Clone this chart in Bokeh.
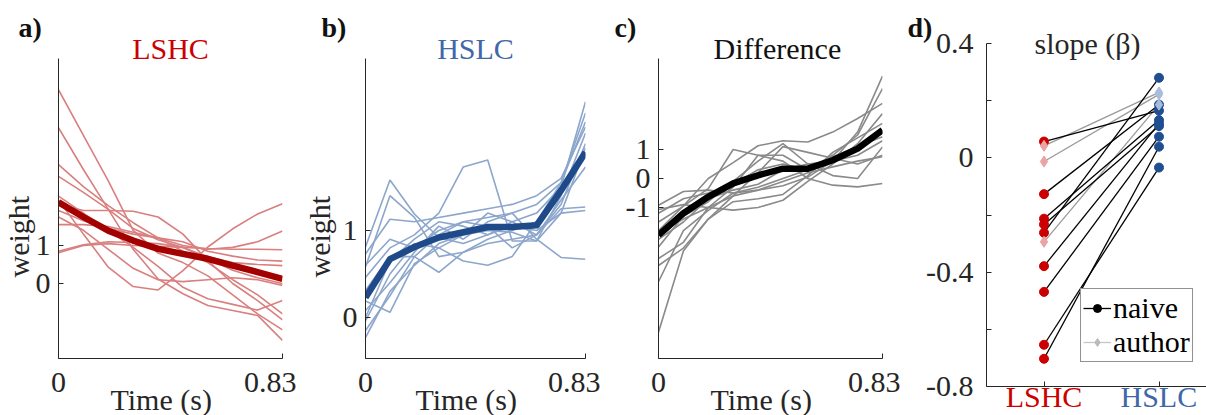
import numpy as np
from bokeh.plotting import figure
from bokeh.layouts import row
from bokeh.models import (Title, FixedTicker, Legend, LegendItem,
                          ColumnDataSource, Range1d)
from bokeh.embed import file_html
from bokeh.resources import INLINE

FONT = "Liberation Serif"
INK = "#262626"
FS = "30px"

# ---------------------------------------------------------------- data
n_frames = 10
time = np.linspace(0.0, 0.83, n_frames)

lshc_subjects = [
    [5.10, 3.90, 2.70, 1.40, 0.80, 0.55, 0.20, -0.30, -0.80, -1.22],
    [4.10, 3.00, 1.95, 0.90, 0.12, -0.27, -0.58, -0.71, -0.84, -1.50],
    [3.13, 2.55, 2.05, 1.60, 1.20, 0.85, 0.55, 0.10, -0.30, -0.80],
    [2.82, 2.40, 1.95, 1.45, 1.15, 0.95, 0.65, 0.35, 0.15, 0.00],
    [2.20, 1.30, 0.43, -0.08, -0.17, 0.34, 0.96, 1.44, 1.83, 2.10],
    [2.08, 1.92, 1.92, 1.90, 1.75, 1.30, 0.60, 0.00, -0.45, -0.96],
    [1.92, 1.65, 1.45, 1.30, 1.20, 1.10, 0.85, 0.72, 0.62, 0.59],
    [1.55, 1.55, 1.50, 1.35, 1.20, 1.00, 0.90, 0.95, 1.10, 1.38],
    [0.81, 1.00, 1.05, 1.00, 0.98, 0.95, 0.92, 0.90, 0.90, 0.89],
    [0.85, 1.02, 1.10, 1.08, 1.05, 0.95, 0.70, 0.55, 0.50, 0.47],
    [1.75, 1.40, 0.90, 0.40, 0.10, 0.05, 0.10, 0.15, 0.10, -0.05],
    [2.30, 1.85, 1.40, 0.95, 0.45, -0.10, -0.40, -0.55, -0.70, -0.45],
]
lshc_mean = [2.14, 1.75, 1.39, 1.13, 0.91, 0.78, 0.65, 0.47, 0.30, 0.12]

hslc_subjects = [
    [0.81, 1.58, 1.19, 0.92, 0.85, 0.95, 1.10, 1.20, 1.50, 2.48],
    [0.58, 1.40, 1.15, 0.70, 0.75, 0.90, 1.00, 1.10, 1.55, 2.35],
    [0.73, 1.13, 1.10, 1.15, 1.20, 1.25, 1.30, 1.40, 1.60, 2.19],
    [0.46, 0.80, 0.95, 1.20, 1.73, 1.81, 0.88, 0.88, 1.20, 1.23],
    [0.19, 0.06, 0.62, 0.80, 0.95, 1.00, 0.98, 0.88, 1.40, 2.12],
    [0.31, 0.70, 0.70, 0.52, 0.75, 0.85, 0.90, 0.95, 1.30, 2.00],
    [0.08, 0.40, 0.75, 1.05, 0.90, 1.10, 1.20, 0.90, 0.69, 0.67],
    [-0.04, 0.50, 0.85, 0.80, 0.65, 0.60, 0.70, 1.10, 1.45, 1.88],
    [-0.15, 0.25, 0.70, 0.95, 1.10, 1.05, 0.80, 0.95, 1.35, 1.73],
    [-0.23, 0.30, 0.60, 0.85, 0.95, 1.20, 1.10, 0.95, 1.25, 1.27],
    [0.60, 0.90, 0.80, 1.00, 1.10, 1.15, 1.20, 1.30, 1.55, 2.25],
    [0.00, 0.65, 0.90, 1.10, 1.05, 0.95, 1.05, 1.00, 1.20, 1.95],
]
hslc_mean = [0.23, 0.67, 0.81, 0.92, 0.98, 1.04, 1.04, 1.06, 1.46, 1.90]

diff_subjects = [
    [-0.92, -0.45, -0.40, -0.50, -0.40, -0.25, 0.05, 0.60, 1.60, 3.53],
    [-1.07, -0.90, -1.00, -1.09, -1.00, -0.75, -0.10, 0.50, 1.20, 2.24],
    [-1.50, -0.95, -0.35, 1.00, 0.80, 0.60, 0.00, -0.23, -0.29, -0.17],
    [-1.80, -0.95, 0.00, 0.55, 1.13, 1.30, 1.26, 1.60, 2.07, 2.59],
    [-2.36, -1.30, -0.80, -0.10, 0.60, 1.20, 0.50, 0.10, 0.00, 1.09],
    [-2.76, -2.20, -1.00, -0.30, 0.80, 0.80, 0.30, 0.75, 1.10, 1.44],
    [-3.00, -2.40, -1.40, -0.60, -0.40, -0.10, 0.20, 0.40, 0.60, 0.75],
    [-3.56, -1.80, -1.10, -0.50, -0.30, 0.00, 0.30, 0.60, 1.00, 1.61],
    [-5.30, -2.50, -1.40, -0.80, -0.70, -0.55, 0.10, 0.90, 1.40, 1.90],
    [-1.20, -0.70, -0.50, -0.20, 0.30, 0.50, 0.30, 0.80, 1.50, 3.10],
    [-2.10, -1.50, -0.70, -0.40, -0.20, 0.30, 0.50, 0.60, 0.80, 1.30],
    [-1.90, -1.40, -1.00, -0.60, 0.20, 1.10, 0.90, 0.70, 0.50, 0.80],
]
diff_mean = [-1.95, -1.20, -0.63, -0.17, 0.11, 0.34, 0.34, 0.63, 1.03, 1.67]

conditions = ["LSHC", "HSLC"]
slope_naive_lshc = [0.057, -0.127, -0.213, -0.233, -0.262, -0.379, -0.469, -0.654, -0.703]
slope_naive_hslc = [0.165, 0.186, 0.132, 0.111, 0.280, 0.120, 0.074, -0.034, 0.039]
slope_author_lshc = [0.042, -0.013, -0.294]
slope_author_hslc = [0.229, 0.222, 0.186]

time_ticks = [0.0, 0.83]
time_tick_labels = {0.0: "0", 0.83: "0.83"}
weight_ticks = [0, 1]
weight_tick_labels = {0: "0", 1: "1"}
diff_ticks = [-1, 0, 1]
diff_tick_labels = {-1: "-1", 0: "0", 1: "1"}
slope_ticks = [-0.8, -0.6, -0.4, -0.2, 0.0, 0.2, 0.4]
slope_tick_labels = {-0.8: "-0.8", -0.6: "", -0.4: "-0.4", -0.2: "", 0.0: "0",
                     0.2: "", 0.4: "0.4"}

# ---------------------------------------------------------------- colours
RED_LIGHT = "#da7f7f"
RED_DARK = "#a30000"
RED = "#cc0000"
PINK = "#eba3a3"
BLUE_LIGHT = "#8ca6cc"
BLUE_DARK = "#1f4a8a"
BLUE = "#1f4e91"
BLUE_TITLE = "#3f68a8"
BLUE_PALE = "#a9bcd9"
GREY = "#8a8a8a"


def make_panel(width, border, xr, yr):
    left, right, top, bottom = border
    p = figure(width=width, height=415,
               x_range=Range1d(*xr), y_range=Range1d(*yr),
               output_backend="svg", toolbar_location=None,
               min_border_left=left, min_border_right=right,
               min_border_top=top, min_border_bottom=bottom)
    p.frame_align = False
    p.outline_line_color = None
    p.grid.visible = False
    p.background_fill_color = "white"
    p.border_fill_color = "white"
    for ax in p.axis:
        ax.axis_line_color = INK
        ax.axis_line_width = 1
        ax.major_tick_line_color = INK
        ax.major_tick_in = 5
        ax.major_tick_out = 0
        ax.minor_tick_line_color = None
        ax.major_label_text_font = FONT
        ax.major_label_text_font_size = FS
        ax.major_label_text_color = INK
    p.xaxis.major_label_standoff = 14
    p.yaxis.major_label_standoff = 8
    return p


def add_title(p, side, text, color=INK, size=FS, align="left", offset=0,
              valign="bottom", standoff=0, style="normal"):
    p.add_layout(Title(text=text, align=align, offset=offset,
                       vertical_align=valign, standoff=standoff,
                       text_font=FONT, text_font_size=size, text_color=color,
                       text_font_style=style), side)


def time_panel(width, border, yr, subjects, mean, thin, thick, yticks, ylabels):
    p = make_panel(width, border, (0.0, 0.83), yr)
    src = ColumnDataSource(dict(xs=[time] * len(subjects), ys=subjects))
    p.multi_line("xs", "ys", source=src, line_color=thin, line_width=1.6)
    p.line(time, mean, line_color=thick, line_width=6.5, line_join="round")
    p.xaxis.ticker = FixedTicker(ticks=time_ticks)
    p.xaxis.major_label_overrides = time_tick_labels
    p.yaxis.ticker = FixedTicker(ticks=yticks)
    p.yaxis.major_label_overrides = ylabels
    return p


# ---------------------------------------------------------------- panel a
pa = time_panel(296, (58, 14, 58, 57), (-75 / 38, 225 / 38), lshc_subjects,
                lshc_mean, RED_LIGHT, RED_DARK, weight_ticks, weight_tick_labels)
add_title(pa, "above", "LSHC", color=RED, align="center", standoff=-13)
add_title(pa, "above", "a)", color="#111111", size="28px", offset=-40,
          standoff=-12, style="bold")
add_title(pa, "left", "weight", offset=81, standoff=-4)
add_title(pa, "below", "Time (s)", offset=52, valign="top", standoff=-24)

# ---------------------------------------------------------------- panel b
pb = time_panel(304, (66, 15, 58, 57), (-41 / 87, 259 / 87), hslc_subjects,
                hslc_mean, BLUE_LIGHT, BLUE_DARK, weight_ticks, weight_tick_labels)
add_title(pb, "above", "HSLC", color=BLUE_TITLE, align="center", standoff=-13)
add_title(pb, "above", "b)", color="#111111", size="28px", offset=-44,
          standoff=-12, style="bold")
add_title(pb, "left", "weight", offset=81, standoff=8)
add_title(pb, "below", "Time (s)", offset=50, valign="top", standoff=-24)

# ---------------------------------------------------------------- panel c
pc = time_panel(300, (58, 18, 58, 57), (-180 / 29, 120 / 29), diff_subjects,
                diff_mean, GREY, "black", diff_ticks, diff_tick_labels)
add_title(pc, "above", "Difference", color="#111111", offset=55, standoff=-13)
add_title(pc, "above", "c)", color="#111111", size="28px", offset=-44,
          standoff=-12, style="bold")
add_title(pc, "below", "Time (s)", offset=52, valign="top", standoff=-24)

# ---------------------------------------------------------------- panel d
pd = make_panel(306, (86, 0, 43, 29), (0.5, 0.5 + 220 / 115), (-0.8, 0.4))
pd.yaxis.ticker = FixedTicker(ticks=slope_ticks)
pd.yaxis.major_label_overrides = slope_tick_labels
pd.yaxis.major_label_standoff = 13
pd.xaxis.ticker = FixedTicker(ticks=[1, 2])
pd.xaxis.major_label_overrides = {1: conditions[0], 2: ""}
pd.xaxis.major_label_text_color = RED
pd.xaxis.major_label_standoff = -7

n_naive = len(slope_naive_lshc)
n_author = len(slope_author_lshc)
pd.segment(x0=[1] * n_author, y0=slope_author_lshc, x1=[2] * n_author,
           y1=slope_author_hslc, line_color="#9a9a9a", line_width=1.3)
pd.segment(x0=[1] * n_naive, y0=slope_naive_lshc, x1=[2] * n_naive,
           y1=slope_naive_hslc, line_color="black", line_width=1.3)
pd.scatter([1] * n_naive, slope_naive_lshc, marker="circle", size=9,
           fill_color=RED, line_color=RED)
pd.scatter([1] * n_author, slope_author_lshc, marker="diamond", size=11,
           fill_color=PINK, line_color=PINK)
pd.scatter([2] * n_naive, slope_naive_hslc, marker="circle", size=9,
           fill_color=BLUE, line_color=BLUE)
pd.scatter([2] * n_author, slope_author_hslc, marker="diamond", size=11,
           fill_color=BLUE_PALE, line_color=BLUE_PALE)

# legend keys (no visible data of their own)
nan = [float("nan")]
naive_line = pd.line(nan, nan, line_color="black", line_width=1.3)
naive_dot = pd.scatter(nan, nan, marker="circle", size=9, fill_color="black",
                       line_color="black")
author_line = pd.line(nan, nan, line_color="#c4c6c4", line_width=1.3)
author_dot = pd.scatter(nan, nan, marker="diamond", size=9,
                        fill_color="#b8bcb8", line_color="#b8bcb8")
legend = Legend(items=[LegendItem(label="naive", renderers=[naive_line, naive_dot]),
                       LegendItem(label="author", renderers=[author_line, author_dot])],
                location=(94, 24), label_text_font=FONT, label_text_font_size=FS,
                label_text_color="black", label_text_line_height=0.8,
                border_line_color=INK, border_line_width=1,
                background_fill_color="white", background_fill_alpha=1.0,
                glyph_width=28, glyph_height=20, label_standoff=2, padding=2,
                spacing=0, margin=0, label_height=20)
pd.add_layout(legend)

add_title(pd, "above", "slope (β)", offset=48, standoff=-33)
add_title(pd, "above", "d)", color="#111111", size="28px", offset=-79,
          standoff=-2, style="bold")
add_title(pd, "below", conditions[1], color=BLUE_TITLE, offset=134,
          valign="top", standoff=-72)

layout = row(pa, pb, pc, pd, spacing=0)
open("out.html", "w").write(file_html(layout, INLINE))
